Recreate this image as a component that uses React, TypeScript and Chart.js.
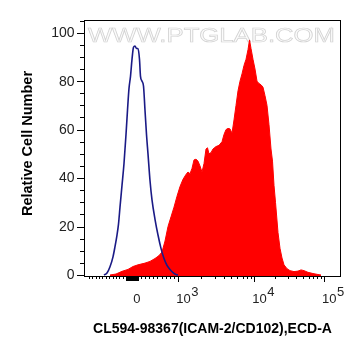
import React, { useEffect, useRef } from "react";
import { Chart, registerables } from "chart.js";

Chart.register(...registerables);

// Display scale: channel units (0–257) of the biexponential ECD-A axis
const isotypeChannel = [20, 23, 26, 29, 31, 33, 34.5, 36, 38, 40, 42, 43.5, 45, 46.5, 48, 49.5, 51, 52.5, 54, 55.5, 56.5, 58, 59.5, 61, 62.5, 64, 66, 68, 71, 74, 77, 80, 83, 86, 89, 92, 94];
const isotypeCount = [0, 0.8, 3.4, 7.5, 11.7, 16.5, 21, 28, 37, 46, 58, 68, 77, 82, 89, 94, 94.5, 93.5, 93.5, 89, 82, 80, 78, 68, 58, 50, 39, 31, 23, 16.5, 11, 6.8, 4, 2.3, 1, 0.2, 0];

const stainedChannel = [26, 32, 38, 44, 49, 54, 61, 66, 71, 75, 78, 81, 84, 87, 90, 93, 96, 99, 102, 104, 106, 108, 110, 112, 114, 116, 118, 120, 122, 123.5, 125, 127, 129, 132, 135, 138, 140, 142, 144, 146, 148, 150, 152, 154, 156, 158, 160, 162, 164, 165.5, 167, 169, 171, 173, 175, 177, 179, 181, 183, 185, 187, 188.5, 190, 191.5, 194, 196, 198, 200, 203, 206, 210, 214, 217, 220, 224, 229, 234, 237];
const stainedCount = [0, 0.4, 1.5, 2.3, 3.5, 4.2, 4.9, 5.6, 6.8, 8, 9.5, 14, 20, 24, 28, 32.5, 36.5, 39.5, 41.5, 42.5, 41.8, 44, 47.5, 47.8, 47, 45, 42.5, 46, 52, 52.5, 50, 50.5, 52, 53, 53.5, 55, 58, 60, 60.5, 60.3, 58.5, 64, 70, 76, 80, 83, 86.5, 89, 93, 97, 93.5, 89, 85, 80, 79, 78.5, 77.5, 74, 70, 62, 52, 47, 37, 30, 17.5, 11, 7, 4.2, 2.6, 1.8, 1.4, 1.6, 2.1, 1.8, 1.1, 0.6, 0.2, 0];

const yTicks = [0, 20, 40, 60, 80, 100];
const xTickChannels = [52.3, 94.3, 170.3, 240];
const xTickBases = ["0", "10", "10", "10"];
const xTickExponents = ["", "3", "4", "5"];

const xTitle = "CL594-98367(ICAM-2/CD102),ECD-A";
const yTitle = "Relative Cell Number";
const watermark = "WWW.PTGLAB.COM";

const FONT = '"Liberation Sans", Arial, sans-serif';

function minorXChannels(): { v: number; len: number }[] {
  const out: { v: number; len: number }[] = [];
  const zero = xTickChannels[0];
  const k3 = xTickChannels[1];
  for (let i = 1; i <= 20; i++) {
    const v = zero - i * 3.4;
    if (v < 2) break;
    out.push({ v, len: 3 });
  }
  for (let d = -300; d <= 50; d += 10) {
    const v = d < 0 ? zero + (d / 100) * 3.4 : zero + (d / 1000) * (k3 - zero);
    out.push({ v, len: 5 });
  }
  for (let m = 1; m <= 9; m++) out.push({ v: zero + (m / 10) * (k3 - zero), len: 3 });
  for (let d = 1; d < xTickChannels.length; d++) {
    const a = xTickChannels[d];
    const b = d + 1 < xTickChannels.length ? xTickChannels[d + 1] : a + (a - xTickChannels[d - 1]);
    for (let m = 2; m <= 9; m++) {
      const v = a + Math.log10(m) * (b - a);
      if (v < 256) out.push({ v, len: 3 });
    }
  }
  return out;
}

const axesPlugin = {
  id: "flowAxes",
  beforeDatasetsDraw(chart: any) {
    const { ctx, chartArea } = chart;
    ctx.save();
    ctx.font = `21px ${FONT}`;
    const w = ctx.measureText(watermark).width;
    const sx = 247 / w;
    ctx.translate(chartArea.left + 4, 42);
    ctx.scale(sx, 1);
    ctx.textBaseline = "alphabetic";
    ctx.textAlign = "left";
    ctx.fillStyle = "#fbfbfb";
    ctx.fillText(watermark, 0, 0);
    ctx.strokeStyle = "#d2d2d2";
    ctx.lineWidth = 0.7;
    ctx.strokeText(watermark, 0, 0);
    ctx.restore();
  },
  afterDraw(chart: any) {
    const { ctx, chartArea, scales } = chart;
    const { left, top, right, bottom } = chartArea;
    const x = scales.x;
    const y = scales.y;
    ctx.save();
    ctx.strokeStyle = "#000";
    ctx.lineWidth = 1;
    ctx.strokeRect(left + 0.5, top + 0.5, right - left - 1, bottom - top - 1);
    const axisY = bottom - 1;

    ctx.beginPath();
    for (let v = 0; v <= 105; v += 5) {
      const py = Math.round(y.getPixelForValue(v)) + 0.5;
      const major = v % 20 === 0;
      ctx.moveTo(left - (major ? 7 : 4), py);
      ctx.lineTo(left, py);
    }
    for (const t of minorXChannels()) {
      const px = Math.round(x.getPixelForValue(t.v)) + 0.5;
      ctx.moveTo(px, axisY);
      ctx.lineTo(px, axisY + t.len);
    }
    for (const c of xTickChannels.slice(1)) {
      const px = Math.round(x.getPixelForValue(c)) + 0.5;
      ctx.moveTo(px, axisY);
      ctx.lineTo(px, axisY + 6);
    }
    ctx.stroke();

    ctx.fillStyle = "#222";
    ctx.font = `14px ${FONT}`;
    ctx.textAlign = "right";
    ctx.textBaseline = "middle";
    for (const v of yTicks) {
      ctx.fillText(String(v), left - 9.5, y.getPixelForValue(v) + 0.5);
    }

    ctx.font = `13px ${FONT}`;
    ctx.textBaseline = "alphabetic";
    xTickChannels.forEach((c, i) => {
      const px = x.getPixelForValue(c);
      if (!xTickExponents[i]) {
        ctx.textAlign = "center";
        ctx.fillText(xTickBases[i], px + 0.5, 302.5);
      } else {
        ctx.textAlign = "left";
        const bx = px - 2;
        ctx.fillText(xTickBases[i], bx, 302.5);
        const bw = ctx.measureText(xTickBases[i]).width;
        ctx.fillText(xTickExponents[i], bx + bw + 0.5, 296);
      }
    });

    ctx.fillStyle = "#000";
    ctx.font = `bold 14px ${FONT}`;
    ctx.textAlign = "center";
    ctx.textBaseline = "alphabetic";
    ctx.fillText(xTitle, (left + right) / 2, 332.5);

    ctx.save();
    ctx.translate(27.5, 143.5);
    ctx.rotate(-Math.PI / 2);
    ctx.textBaseline = "middle";
    ctx.font = `bold 14.5px ${FONT}`;
    ctx.fillText(yTitle, 0, 0);
    ctx.restore();

    ctx.restore();
  },
};

export default function App() {
  const ref = useRef<HTMLCanvasElement | null>(null);

  useEffect(() => {
    document.body.style.margin = "0";
    if (!ref.current) return;
    const chart = new Chart(ref.current, {
      type: "line",
      data: {
        datasets: [
          {
            label: "Isotype control",
            data: isotypeChannel.map((c, i) => ({ x: c, y: isotypeCount[i] })),
            borderColor: "#1a1a86",
            borderWidth: 1.6,
            fill: false,
            cubicInterpolationMode: "monotone",
            pointRadius: 0,
            order: 0,
          },
          {
            label: "CL594-98367",
            data: stainedChannel.map((c, i) => ({ x: c, y: stainedCount[i] })),
            borderColor: "#ff0000",
            backgroundColor: "#ff0000",
            borderWidth: 1,
            fill: "start",
            tension: 0,
            pointRadius: 0,
            order: 1,
          },
        ],
      },
      options: {
        animation: false,
        responsive: false,
        devicePixelRatio: 1,
        layout: { padding: { left: 84, top: 20, right: 20, bottom: 79 } },
        plugins: { legend: { display: false }, tooltip: { enabled: false } },
        scales: {
          x: { type: "linear", min: 0, max: 257, display: false },
          y: { type: "linear", min: -0.83, max: 105.24, display: false },
        },
      },
      plugins: [axesPlugin],
    } as any);
    return () => chart.destroy();
  }, []);

  return (
    <div style={{ position: "absolute", left: 0, top: 0, width: 361, height: 356, background: "#fff" }}>
      <canvas ref={ref} width={361} height={356} style={{ display: "block" }} />
    </div>
  );
}
